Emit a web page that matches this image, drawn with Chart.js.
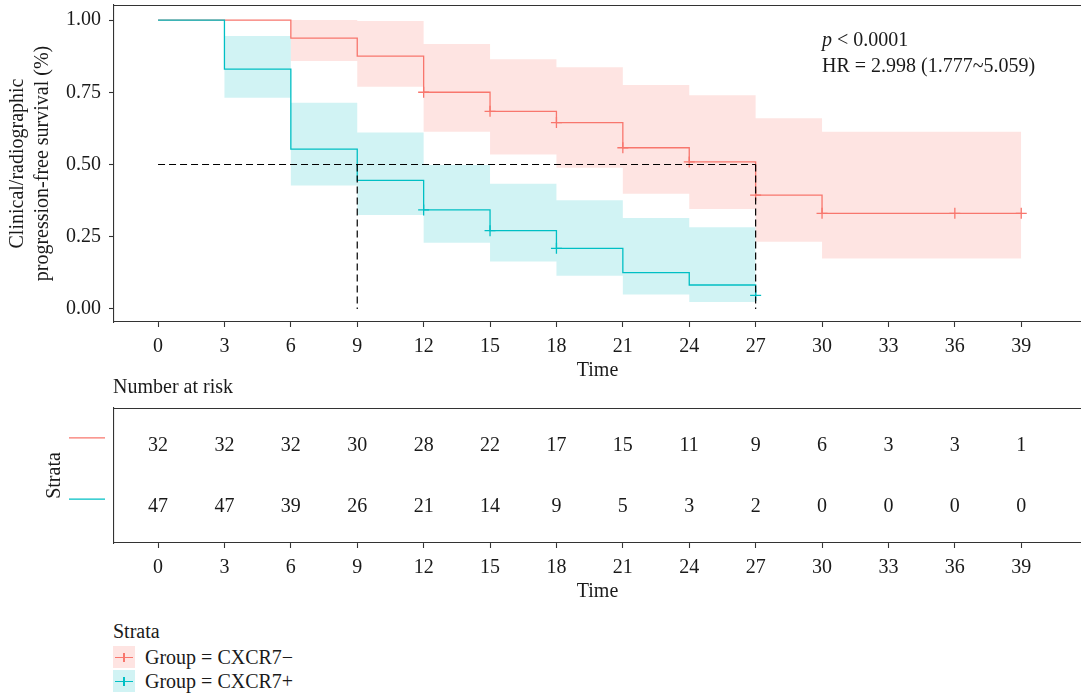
<!DOCTYPE html>
<html>
<head>
<meta charset="utf-8">
<script src="https://cdn.jsdelivr.net/npm/chart.js@4.4.1/dist/chart.umd.min.js"></script>
<style>
  html, body { margin: 0; padding: 0; background: #fff; width: 1081px; height: 697px; overflow: hidden; }
  body { font-family: "Liberation Serif", "DejaVu Serif", serif; color: #1a1a1a; }
  #km { position: absolute; left: 0; top: 0; width: 1081px; height: 385px; }
  #risk { position: absolute; left: 0; top: 375px; width: 1081px; height: 231px; }
  #legend { position: absolute; left: 113px; top: 619px; font-size: 20px; }
  #legend .lt { position: absolute; left: 0; top: 0; line-height: 24px; white-space: nowrap; }
  #legend .item { position: absolute; left: 0; height: 22px; white-space: nowrap; }
  #legend .sw { position: absolute; left: 0; top: 0; width: 22px; height: 22px; }
  #legend .sw i { position: absolute; display: block; }
  #legend .sw .h { left: 2px; top: 10.5px; width: 18px; height: 1.4px; }
  #legend .sw .v { left: 10.3px; top: 6.5px; width: 1.4px; height: 9px; }
  #legend .txt { position: absolute; left: 32px; top: 0; line-height: 22px; }
</style>
</head>
<body>
<div id="km"><canvas id="kmCanvas"></canvas></div>
<div id="risk"><canvas id="riskCanvas"></canvas></div>
<div id="legend"></div>
<script>
// ---- survival data (Kaplan-Meier estimates with confidence bands) ----
const timeTicks = [0, 3, 6, 9, 12, 15, 18, 21, 24, 27, 30, 33, 36, 39];
const survTicks = [0, 0.25, 0.5, 0.75, 1];

// Group = CXCR7-
const negTimes  = [0, 6, 9, 12, 15, 18, 21, 24, 27, 30, 39];
const negSurv   = [1, 0.9375, 0.875, 0.75, 0.684, 0.645, 0.558, 0.509, 0.394, 0.331, 0.331];
const negUpper  = [1, 1.0, 0.997, 0.917, 0.864, 0.837, 0.775, 0.740, 0.660, 0.613, 0.613];
const negLower  = [1, 0.858, 0.769, 0.613, 0.535, 0.489, 0.399, 0.346, 0.233, 0.175, 0.175];
const negCensorTimes = [12, 15, 18, 21, 24, 27, 30, 36, 39];
const negCensorSurv  = [0.75, 0.684, 0.645, 0.558, 0.509, 0.394, 0.331, 0.331, 0.331];

// Group = CXCR7+
const posTimes  = [0, 3, 6, 9, 12, 15, 18, 21, 24, 27];
const posSurv   = [1, 0.830, 0.553, 0.445, 0.343, 0.271, 0.210, 0.126, 0.083, 0.047];
const posUpper  = [1, 0.945, 0.714, 0.611, 0.498, 0.433, 0.376, 0.315, 0.283, 0.283];
const posLower  = [1, 0.731, 0.427, 0.325, 0.229, 0.164, 0.115, 0.050, 0.024, 0.024];
const posCensorTimes = [12, 15, 18, 27];
const posCensorSurv  = [0.343, 0.271, 0.210, 0.047];

// Number at risk
const riskTimes = [0, 3, 6, 9, 12, 15, 18, 21, 24, 27, 30, 33, 36, 39];
const negRisk = [32, 32, 32, 30, 28, 22, 17, 15, 11, 9, 6, 3, 3, 1];
const posRisk = [47, 47, 39, 26, 21, 14, 9, 5, 3, 2, 0, 0, 0, 0];

const groupLabels = ['Group = CXCR7\u2212', 'Group = CXCR7+'];
const pValueText = ' < 0.0001';
const hrText = 'HR = 2.998 (1.777~5.059)';

// ---- styling ----
const RED = '#F8766D', BLUE = '#00BFC4';
const RED_FILL = 'rgba(248,118,109,0.2)', BLUE_FILL = 'rgba(0,191,196,0.18)';
const FONT = '"Liberation Serif", "DejaVu Serif", serif';
const INK = '#1a1a1a', AXIS = '#333333';
const X_MIN = -1.99, X_MAX = 41.7;

const pts = (xs, ys) => xs.map((x, i) => ({ x, y: ys[i] }));
const median = (xs, ys) => { for (let i = 0; i < ys.length; i++) if (ys[i] <= 0.5) return xs[i]; return null; };
const medians = [median(negTimes, negSurv), median(posTimes, posSurv)].filter(v => v !== null);
const medMax = Math.max(...medians);

// keep the plot panel where the layout puts it, without label overhang padding
const noOverhang = s => { s.paddingTop = 0; s.paddingBottom = 0; s.paddingLeft = 0; s.paddingRight = 0; };

function xScale(height) {
  return {
    type: 'linear', min: X_MIN, max: X_MAX,
    afterBuildTicks: s => { s.ticks = timeTicks.map(v => ({ value: v })); },
    afterFit: s => { s.height = height; noOverhang(s); },
    grid: { display: true, drawOnChartArea: false, drawTicks: true, tickLength: 5, tickColor: AXIS, tickWidth: 1.1 },
    border: { display: true, color: AXIS, width: 1.1 },
    ticks: { color: INK, font: { family: FONT, size: 20 }, padding: 8, maxRotation: 0, autoSkip: false },
    title: { display: true, text: 'Time', color: INK, font: { family: FONT, size: 20 }, padding: { top: 0, bottom: 2 } }
  };
}

// top frame line (panel has no right edge inside the figure)
const topFrame = {
  id: 'topFrame',
  afterDraw(chart) {
    const { ctx, chartArea: a } = chart;
    ctx.save();
    ctx.strokeStyle = AXIS; ctx.lineWidth = 1.1;
    ctx.beginPath(); ctx.moveTo(a.left, a.top + 0.5); ctx.lineTo(a.right, a.top + 0.5); ctx.stroke();
    ctx.restore();
  }
};

// statistics annotation
const statsText = {
  id: 'statsText',
  afterDraw(chart) {
    const { ctx } = chart;
    const x = 822;
    ctx.save();
    ctx.fillStyle = INK; ctx.textBaseline = 'alphabetic'; ctx.textAlign = 'left';
    ctx.font = 'italic 20px ' + FONT;
    ctx.fillText('p', x, 46);
    const w = ctx.measureText('p').width;
    ctx.font = '20px ' + FONT;
    ctx.fillText(pValueText, x + w, 46);
    ctx.fillText(hrText, x, 72);
    ctx.restore();
  }
};

const lineDs = (label, data, color, order) => ({
  label, data, borderColor: color, borderWidth: 1.3, stepped: true,
  pointRadius: 0, fill: false, order
});
const bandDs = (label, data, fillColor, fillTarget, order) => ({
  label, data, borderWidth: 0, borderColor: 'rgba(0,0,0,0)', backgroundColor: fillColor,
  stepped: true, pointRadius: 0, fill: fillTarget, order
});
const censorDs = (label, data, color, order) => ({
  label, data, showLine: false, pointStyle: 'cross', pointRadius: 5.5, pointHoverRadius: 5.5,
  pointBorderColor: color, pointBorderWidth: 1.3, borderColor: color, order
});
const dashDs = (label, data) => ({
  label, data, borderColor: '#000', borderWidth: 1.2, borderDash: [7, 4],
  pointRadius: 0, fill: false, order: 0
});

const medianDatasets = [dashDs('median', [{ x: 0, y: 0.5 }, { x: medMax, y: 0.5 }])]
  .concat(medians.map(m => dashDs('median ' + m, [{ x: m, y: 0.5 }, { x: m, y: 0 }])));

new Chart(document.getElementById('kmCanvas'), {
  type: 'line',
  data: {
    datasets: [
      bandDs('neg upper', pts(negTimes, negUpper), RED_FILL, '+1', 20),
      bandDs('neg lower', pts(negTimes, negLower), RED_FILL, false, 20),
      bandDs('pos upper', pts(posTimes, posUpper), BLUE_FILL, '+1', 19),
      bandDs('pos lower', pts(posTimes, posLower), BLUE_FILL, false, 19),
      lineDs(groupLabels[0], pts(negTimes, negSurv), RED, 10),
      lineDs(groupLabels[1], pts(posTimes, posSurv), BLUE, 9),
      censorDs('neg censor', pts(negCensorTimes, negCensorSurv), RED, 5),
      censorDs('pos censor', pts(posCensorTimes, posCensorSurv), BLUE, 4),
      ...medianDatasets
    ]
  },
  options: {
    responsive: true, maintainAspectRatio: false, animation: false,
    layout: { autoPadding: false, padding: { top: 5, right: 0, left: 0, bottom: 0 } },
    plugins: { legend: { display: false }, tooltip: { enabled: false } },
    scales: {
      x: xScale(63),
      y: {
        type: 'linear', min: -0.045, max: 1.052,
        afterBuildTicks: s => { s.ticks = survTicks.map(v => ({ value: v })); },
        afterFit: s => { s.width = 114; noOverhang(s); },
        grid: { display: true, drawOnChartArea: false, drawTicks: true, tickLength: 5, tickColor: AXIS, tickWidth: 1.1 },
        border: { display: true, color: AXIS, width: 1.1 },
        ticks: { color: INK, font: { family: FONT, size: 20 }, padding: 8, callback: v => v.toFixed(2) },
        title: {
          display: true, text: ['Clinical/radiographic', 'progression-free survival (%)'],
          color: INK, font: { family: FONT, size: 20, lineHeight: 1.25 }, padding: { top: 5, bottom: 0 }
        }
      }
    }
  },
  plugins: [topFrame, statsText]
});

// ---- risk table ----
const riskText = {
  id: 'riskText',
  afterDatasetsDraw(chart) {
    const { ctx, chartArea: a } = chart;
    ctx.save();
    ctx.fillStyle = INK; ctx.font = '20px ' + FONT;
    ctx.textAlign = 'center'; ctx.textBaseline = 'middle';
    chart.data.datasets.forEach((ds, di) => {
      const meta = chart.getDatasetMeta(di);
      meta.data.forEach((el, i) => ctx.fillText(String(ds.counts[i]), el.x, el.y + 1));
    });
    // strata colour keys beside each row
    const ys = chart.scales.y;
    chart.data.datasets.forEach(ds => {
      const y = ys.getPixelForValue(ds.row) - 7;
      ctx.strokeStyle = ds.keyColor; ctx.lineWidth = 1.3;
      ctx.beginPath(); ctx.moveTo(a.left - 45, y); ctx.lineTo(a.left - 9, y); ctx.stroke();
    });
    ctx.textAlign = 'left';
    ctx.fillText('Number at risk', a.left - 1, a.top - 20);
    ctx.restore();
  }
};

const riskRow = (counts, row, color) => ({
  label: 'risk', data: riskTimes.map(t => ({ x: t, y: row })), counts, row, keyColor: color,
  showLine: false, pointRadius: 0, pointHoverRadius: 0
});

new Chart(document.getElementById('riskCanvas'), {
  type: 'scatter',
  data: { datasets: [riskRow(negRisk, 2, RED), riskRow(posRisk, 1, BLUE)] },
  options: {
    responsive: true, maintainAspectRatio: false, animation: false,
    layout: { autoPadding: false, padding: { top: 33, right: 0, left: 0, bottom: 0 } },
    plugins: { legend: { display: false }, tooltip: { enabled: false } },
    scales: {
      x: xScale(63),
      y: {
        type: 'linear', min: 0.4, max: 2.6,
        afterFit: s => { s.width = 114; noOverhang(s); },
        grid: { display: false },
        border: { display: true, color: AXIS, width: 1.1 },
        ticks: { display: false },
        title: { display: true, text: 'Strata', color: INK, font: { family: FONT, size: 20 }, padding: { top: 43, bottom: 0 } }
      }
    }
  },
  plugins: [topFrame, riskText]
});

// ---- legend ----
const legend = document.getElementById('legend');
const title = document.createElement('div');
title.className = 'lt'; title.textContent = 'Strata';
legend.appendChild(title);
[[groupLabels[0], RED, RED_FILL], [groupLabels[1], BLUE, BLUE_FILL]].forEach(([label, col, fill], i) => {
  const item = document.createElement('div');
  item.className = 'item'; item.style.top = (27 + i * 24) + 'px';
  const sw = document.createElement('span');
  sw.className = 'sw'; sw.style.background = fill;
  const h = document.createElement('i'); h.className = 'h'; h.style.background = col;
  const v = document.createElement('i'); v.className = 'v'; v.style.background = col;
  sw.appendChild(h); sw.appendChild(v);
  const t = document.createElement('span'); t.className = 'txt'; t.textContent = label;
  item.appendChild(sw); item.appendChild(t);
  legend.appendChild(item);
});
</script>
</body>
</html>
